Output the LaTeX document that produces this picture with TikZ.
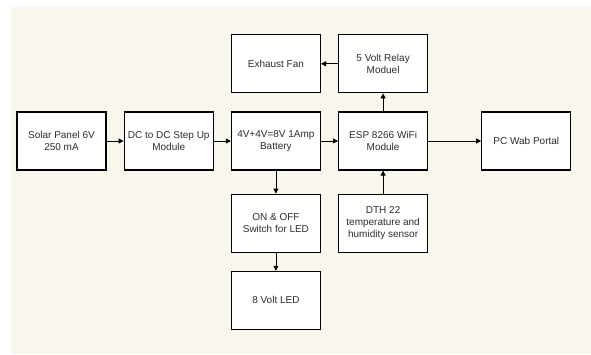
\documentclass[tikz,border=0pt]{standalone}
\usepackage{fontspec}
\setmainfont{Liberation Sans}
\usepackage{xcolor}
\usetikzlibrary{positioning,arrows.meta}
\definecolor{paper}{RGB}{249,246,238}
\definecolor{ink}{RGB}{45,45,45}

\begin{document}
\begin{tikzpicture}[
    x=1pt, y=1pt,
    node distance=17pt and 17pt,
    box/.style={draw, line width=1.2pt, fill=white, minimum width=89pt, minimum height=58pt, align=center, font=\fontsize{10}{12}\selectfont, text=ink, inner sep=1pt},
    arrow/.style={-{Triangle[length=5pt, width=5pt]}, line width=0.8pt}
]
\useasboundingbox (0,0) rectangle (591,-354);
\fill[paper] (11,-7) rectangle (591,-354);

\node[box] (solar) at (61.5,-141) {Solar Panel 6V\\250 mA};
\node[box, right=17pt of solar] (boost) {DC to DC Step Up\\Module};
\node[box, right=17pt of boost] (battery) {4V+4V=8V 1Amp\\Battery};
\node[box, right=17pt of battery] (esp) {ESP 8266 WiFi\\Module};
\node[box, right=53pt of esp] (portal) {PC Wab Portal};
\node[box, above=18pt of esp] (relay) {5 Volt Relay\\Moduel};
\node[box, above=18pt of battery] (fan) {Exhaust Fan};
\node[box, below=23pt of battery] (switch) {ON \& OFF\\Switch for LED};
\node[box, below=18pt of switch] (led) {8 Volt LED};
\node[box, below=23pt of esp] (sensor) {DTH 22\\temperature and\\humidity sensor};

\draw[arrow] (solar) -- (boost);
\draw[arrow] (boost) -- (battery);
\draw[arrow] (battery) -- (esp);
\draw[arrow] (esp) -- (portal);
\draw[arrow] (esp) -- (relay);
\draw[arrow] (relay) -- (fan);
\draw[arrow] (sensor) -- (esp);
\draw[arrow] (battery) -- (switch);
\draw[arrow] (switch) -- (led);

\end{tikzpicture}
\end{document}
